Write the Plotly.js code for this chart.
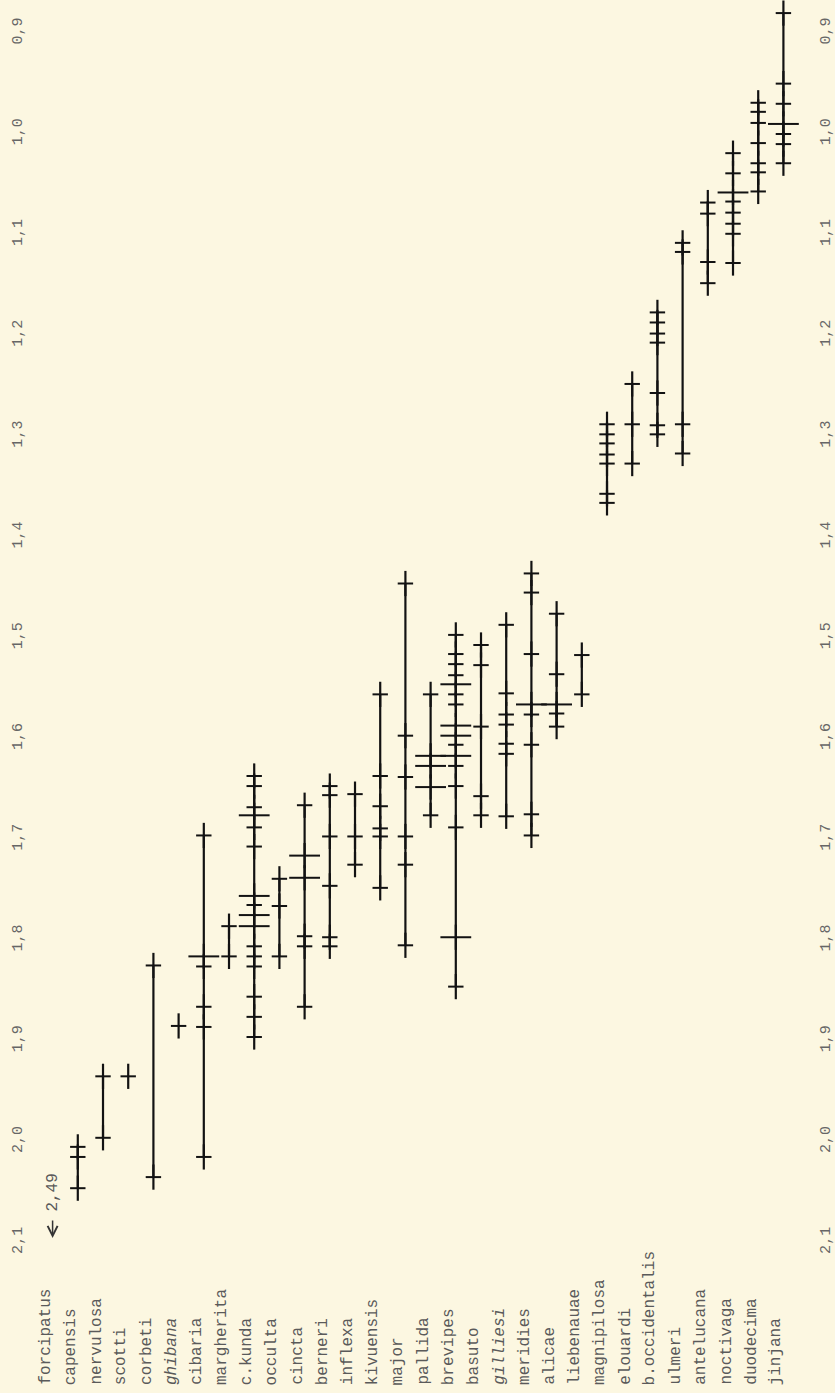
<!DOCTYPE html>
<html><head><meta charset="utf-8">
<script src="https://cdn.plot.ly/plotly-3.0.1.min.js"></script>
<style>html,body{margin:0;padding:0;background:#fcf7e1;} #chart{width:835px;height:1393px;}</style>
</head><body><div id="chart"></div>
<script>
// ---- categories ----
const species = ["forcipatus","capensis","nervulosa","scotti","corbeti","ghibana","cibaria","margherita","c.kunda","occulta","cincta","berneri","inflexa","kivuensis","major","pallida","brevipes","basuto","gilliesi","meridies","alicae","liebenauae","magnipilosa","elouardi","b.occidentalis","ulmeri","antelucana","noctivaga","duodecima","jinjana"];
const italicSpecies = ["ghibana","gilliesi"];

// ---- measured values (one small array per species) ----
const forcipatus = [2.49];
const capensis = [2.005, 2.015, 2.046];
const nervulosa = [1.935, 1.996];
const scotti = [1.935];
const corbeti = [1.825, 2.035];
const ghibana = [1.885];
const cibaria = [1.696, 1.816, 1.826, 1.866, 1.886, 2.015];
const margherita = [1.786, 1.816];
const cKunda = [1.637, 1.647, 1.668, 1.676, 1.688, 1.707, 1.756, 1.765, 1.775, 1.786, 1.806, 1.816, 1.826, 1.856, 1.876, 1.896];
const occulta = [1.739, 1.766, 1.816];
const cincta = [1.666, 1.716, 1.738, 1.796, 1.806, 1.866];
const berneri = [1.647, 1.656, 1.697, 1.746, 1.797, 1.806];
const inflexa = [1.655, 1.697, 1.725];
const kivuensis = [1.556, 1.637, 1.667, 1.689, 1.697, 1.748];
const major = [1.446, 1.597, 1.638, 1.697, 1.725, 1.805];
const pallida = [1.556, 1.617, 1.627, 1.648, 1.676];
const brevipes = [1.497, 1.516, 1.526, 1.537, 1.546, 1.556, 1.566, 1.587, 1.597, 1.606, 1.617, 1.627, 1.647, 1.688, 1.797, 1.846];
const basuto = [1.507, 1.527, 1.588, 1.657, 1.676];
const gilliesi = [1.487, 1.555, 1.576, 1.586, 1.605, 1.615, 1.677];
const meridies = [1.436, 1.455, 1.516, 1.566, 1.576, 1.606, 1.675, 1.696];
const alicae = [1.476, 1.536, 1.566, 1.575, 1.588];
const liebenauae = [1.517, 1.556];
const magnipilosa = [1.288, 1.298, 1.307, 1.318, 1.327, 1.357, 1.366];
const elouardi = [1.248, 1.288, 1.327];
const bOccidentalis = [1.177, 1.187, 1.198, 1.207, 1.257, 1.289, 1.298];
const ulmeri = [1.108, 1.117, 1.288, 1.317];
const antelucana = [1.068, 1.079, 1.127, 1.148];
const noctivaga = [1.019, 1.039, 1.058, 1.067, 1.078, 1.089, 1.099, 1.128];
const duodecima = [0.969, 0.978, 0.989, 1.009, 1.029, 1.038, 1.057];
const jinjana = [0.880, 0.950, 0.970, 0.990, 1.000, 1.010, 1.029];

// ---- values drawn with a wide tick ----
const wideCibaria = [1.816];
const wideCKunda = [1.676, 1.756, 1.775, 1.786];
const wideCincta = [1.716, 1.738];
const widePallida = [1.617, 1.627, 1.648];
const wideBrevipes = [1.546, 1.587, 1.597, 1.617, 1.797];
const wideMeridies = [1.566];
const wideAlicae = [1.566];
const wideNoctivaga = [1.058];
const wideJinjana = [0.990];

// ---- axis tick labels ----
const tickValues = [0.9, 1.0, 1.1, 1.2, 1.3, 1.4, 1.5, 1.6, 1.7, 1.8, 1.9, 2.0, 2.1];
const tickLabels = ["0,9","1,0","1,1","1,2","1,3","1,4","1,5","1,6","1,7","1,8","1,9","2,0","2,1"];

// ---- tables built from the arrays ----
const allValues = [forcipatus, capensis, nervulosa, scotti, corbeti, ghibana, cibaria, margherita, cKunda, occulta, cincta, berneri, inflexa, kivuensis, major, pallida, brevipes, basuto, gilliesi, meridies, alicae, liebenauae, magnipilosa, elouardi, bOccidentalis, ulmeri, antelucana, noctivaga, duodecima, jinjana];
const wideValues = {"cibaria": wideCibaria, "c.kunda": wideCKunda, "cincta": wideCincta, "pallida": widePallida, "brevipes": wideBrevipes, "meridies": wideMeridies, "alicae": wideAlicae, "noctivaga": wideNoctivaga, "jinjana": wideJinjana};

const Y_RANGE = [2.15, 0.87];
const maxShown = Y_RANGE[0];

const lx = [], ly = [], ax = [], ay = [], nx = [], ny = [], wx = [], wy = [];
const offScale = [];
species.forEach((sp, i) => {
  const vals = allValues[i].filter(v => v <= maxShown);
  if (vals.length < allValues[i].length) offScale.push({sp: sp, vals: allValues[i].filter(v => v > maxShown)});
  if (!vals.length) return;
  lx.push(sp, sp, null); ly.push(Math.min(...vals), Math.max(...vals), null);
  const w = wideValues[sp] || [];
  vals.forEach(v => {
    ax.push(sp); ay.push(v);
    if (w.includes(v)) { wx.push(sp); wy.push(v); } else { nx.push(sp); ny.push(v); }
  });
});

const INK = '#121212';
const traces = [
  {type:'scatter', mode:'lines', x: lx, y: ly, line:{color:INK, width:2.2}, hoverinfo:'skip', cliponaxis:false},
  {type:'scatter', mode:'markers', x: ax, y: ay, marker:{symbol:'line-ns', size:18, color:INK, line:{color:INK, width:2.2}}, hoverinfo:'skip', cliponaxis:false},
  {type:'scatter', mode:'markers', x: nx, y: ny, marker:{symbol:'line-ew', size:11, color:INK, line:{color:INK, width:2}}, hoverinfo:'skip', cliponaxis:false},
  {type:'scatter', mode:'markers', x: wx, y: wy, marker:{symbol:'line-ew', size:22, color:INK, line:{color:INK, width:2}}, hoverinfo:'skip', cliponaxis:false},
  {type:'scatter', mode:'markers', x: [species[0]], y: [1.5], yaxis:'y2', marker:{opacity:0}, hoverinfo:'skip'}
];

const labelFont = {family:'Liberation Mono, DejaVu Sans Mono, monospace', size:16, color:'#5a5a5a'};
const tickFont = {family:'Liberation Mono, DejaVu Sans Mono, monospace', size:15, color:'#666'};

const annotations = species.map(sp => ({
  x: sp, xref:'x', y: 0, yref:'paper', yanchor:'bottom', xanchor:'center', yshift:-94, xshift:-7,
  text: italicSpecies.includes(sp) ? '<i>' + sp + '</i>' : sp,
  textangle: -90, showarrow:false, font: labelFont
}));
// off-scale value: written value plus a downward arrow
offScale.forEach(o => {
  annotations.push({
    x: o.sp, xref:'x', y: 2.0716, yref:'y', xanchor:'center', yanchor:'bottom',
    text: o.vals.map(v => v.toFixed(2).replace('.', ',')).join(' '),
    textangle: -90, showarrow:false, font: {family:'Liberation Mono, DejaVu Sans Mono, monospace', size:16, color:'#5a5a5a'}
  });
  annotations.push({
    x: o.sp, xref:'x', y: 2.0955, yref:'y', text: '', showarrow: true,
    ax: 0, ay: -19, arrowhead: 5, arrowsize: 1.3, arrowwidth: 1.5, arrowcolor: '#333', standoff: 0
  });
});

const yCommon = {range: Y_RANGE, tickmode:'array', tickvals: tickValues, ticktext: tickLabels, tickangle:-90,
  tickfont: tickFont, showgrid:false, zeroline:false, showline:false, ticks:'', ticklabelstandoff: 4};

const layout = {
  width: 835, height: 1393,
  margin: {l:30, r:25, t:3, b:100},
  paper_bgcolor:'#fcf7e1', plot_bgcolor:'#fcf7e1',
  showlegend:false,
  xaxis: {type:'category', categoryorder:'array', categoryarray: species, range:[-0.897, 30.055],
    showticklabels:false, showgrid:false, zeroline:false, showline:false, ticks:''},
  yaxis: Object.assign({side:'left'}, yCommon),
  yaxis2: Object.assign({side:'right', overlaying:'y'}, yCommon),
  annotations: annotations
};

Plotly.newPlot('chart', traces, layout, {staticPlot:true, displayModeBar:false});
</script></body></html>
